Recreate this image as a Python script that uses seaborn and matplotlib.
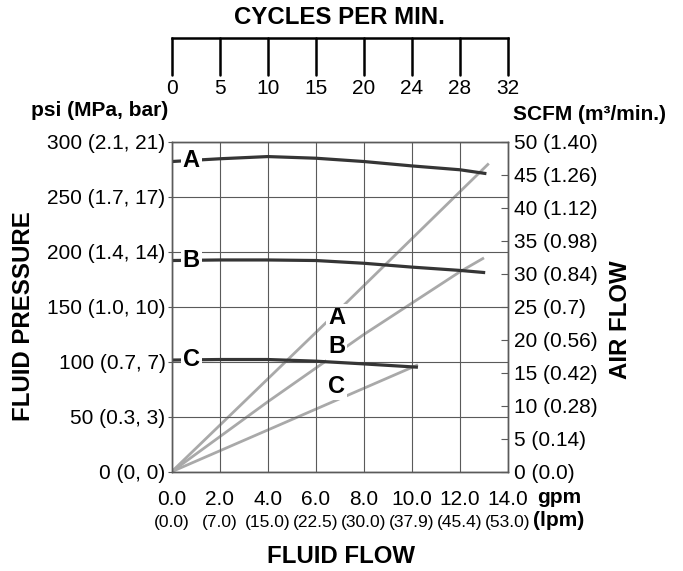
import numpy as np
import pandas as pd
import matplotlib
matplotlib.use("Agg")
import matplotlib.pyplot as plt
from matplotlib import font_manager as fm
import seaborn as sns

# ---- axis scales and tick labels ----
gpm_ticks = [0, 2, 4, 6, 8, 10, 12, 14]
gpm_labels = ["0.0", "2.0", "4.0", "6.0", "8.0", "10.0", "12.0", "14.0"]
lpm_labels = ["(0.0)", "(7.0)", "(15.0)", "(22.5)", "(30.0)", "(37.9)", "(45.4)", "(53.0)"]
cycles_labels = ["0", "5", "10", "15", "20", "24", "28", "32"]
psi_ticks = [0, 50, 100, 150, 200, 250, 300]
psi_labels = ["0 (0, 0)", "50 (0.3, 3)", "100 (0.7, 7)", "150 (1.0, 10)",
              "200 (1.4, 14)", "250 (1.7, 17)", "300 (2.1, 21)"]
scfm_ticks = [0, 5, 10, 15, 20, 25, 30, 35, 40, 45, 50]
scfm_labels = ["0 (0.0)", "5 (0.14)", "10 (0.28)", "15 (0.42)", "20 (0.56)",
               "25 (0.7)", "30 (0.84)", "35 (0.98)", "40 (1.12)", "45 (1.26)",
               "50 (1.40)"]

# ---- fluid pressure curves (psi vs gpm) ----
press_a_gpm = [0, 2, 4, 6, 8, 10, 12, 13.1]
press_a_psi = [282, 284.5, 286.5, 285, 282, 278, 274.5, 271]
press_b_gpm = [0, 2, 4, 6, 8, 10, 12, 13.05]
press_b_psi = [192, 192.5, 192.5, 192, 189.5, 186, 183, 181]
press_c_gpm = [0, 2, 4, 6, 8, 10.25]
press_c_psi = [101.5, 102, 102, 100.5, 98, 95]

# ---- air consumption curves (SCFM vs gpm) ----
air_a_gpm = [0, 6.4, 13.2]
air_a_scfm = [0, 22.5, 46.7]
air_b_gpm = [0, 4, 8, 12, 13.0]
air_b_scfm = [0, 10.6, 20.8, 30.3, 32.4]
air_c_gpm = [0, 10.25]
air_c_scfm = [0, 16.2]

curve_names = ["A", "B", "C"]


def has_font(name):
    try:
        fm.findfont(fm.FontProperties(family=name), fallback_to_default=False)
        return True
    except ValueError:
        return False


sns.set_style("white")
base_font = "Liberation Sans" if has_font("Liberation Sans") else "DejaVu Sans"
plt.rcParams["font.family"] = [base_font, "DejaVu Sans"]
plt.rcParams["text.color"] = "black"
plt.rcParams["xtick.color"] = "black"
plt.rcParams["ytick.color"] = "black"
narrow_font = "Liberation Sans Narrow" if has_font("Liberation Sans Narrow") else base_font
narrow_size = 15 if narrow_font != base_font else 12.5

press_df = pd.concat([
    pd.DataFrame({"gpm": press_a_gpm, "psi": press_a_psi, "pump": "A"}),
    pd.DataFrame({"gpm": press_b_gpm, "psi": press_b_psi, "pump": "B"}),
    pd.DataFrame({"gpm": press_c_gpm, "psi": press_c_psi, "pump": "C"}),
], ignore_index=True)
air_df = pd.concat([
    pd.DataFrame({"gpm": air_a_gpm, "scfm": air_a_scfm, "pump": "A"}),
    pd.DataFrame({"gpm": air_b_gpm, "scfm": air_b_scfm, "pump": "B"}),
    pd.DataFrame({"gpm": air_c_gpm, "scfm": air_c_scfm, "pump": "C"}),
], ignore_index=True)

DARK = "#353535"
LIGHT = "#a9a9a9"
GRID = "#5a5a5a"
TICK_FS = 15
TITLE_FS = 17.3

fig = plt.figure(figsize=(6.83, 5.71), dpi=100)
ax = fig.add_axes([0.2514, 0.1739, 0.4924, 0.5779])
ax2 = ax.twinx()

# air flow on the right-hand scale
sns.lineplot(data=air_df, x="gpm", y="scfm", hue="pump",
             palette={n: LIGHT for n in curve_names}, linewidth=2.0,
             legend=False, ax=ax2, solid_capstyle="butt")
# fluid pressure on the left-hand scale
sns.lineplot(data=press_df, x="gpm", y="psi", hue="pump",
             palette={n: DARK for n in curve_names}, linewidth=2.3,
             legend=False, ax=ax, solid_capstyle="butt")
ax.set_zorder(ax2.get_zorder() + 1)
ax.patch.set_visible(False)

ax.set_xlim(0, 14)
ax.set_ylim(0, 300)
ax2.set_ylim(0, 50)

ax.set_xticks(gpm_ticks)
ax.set_xticklabels(gpm_labels, fontsize=TICK_FS)
ax.set_yticks(psi_ticks)
ax.set_yticklabels(psi_labels, fontsize=TICK_FS)
ax.tick_params(axis="x", length=0, pad=13, labelcolor="black")
ax.tick_params(axis="y", length=3, width=0.8, color=GRID, pad=1.5, labelcolor="black")
ax.grid(True, color=GRID, linewidth=0.8)
ax.set_xlabel("")
ax.set_ylabel("")

ax2.set_yticks(scfm_ticks)
ax2.set_yticklabels(scfm_labels, fontsize=TICK_FS)
ax2.tick_params(axis="y", direction="in", length=5, width=0.8, color=GRID,
                pad=4.5, labelcolor="black")
ax2.set_ylabel("")
ax2.grid(False)

for a in (ax, ax2):
    for s in a.spines.values():
        s.set_color(GRID)
        s.set_linewidth(1.0)

# second row of flow labels in litres per minute
sec = ax.secondary_xaxis("bottom")
sec.set_xticks(gpm_ticks)
sec.set_xticklabels(lpm_labels, fontsize=narrow_size, family=narrow_font)
sec.tick_params(axis="x", length=0, pad=31, labelcolor="black")
sec.spines["bottom"].set_visible(False)

# curve identifiers
label_box = dict(facecolor="white", edgecolor="none", pad=1.5)
press_series = [(press_a_gpm, press_a_psi), (press_b_gpm, press_b_psi),
                (press_c_gpm, press_c_psi)]
for name, (gx, gy) in zip(curve_names, press_series):
    ax.text(0.82, np.interp(0.82, gx, gy), name, fontsize=17, fontweight="bold",
            ha="center", va="center", bbox=label_box, zorder=5)

air_label_x = 6.86
air_label_y = [23.4, 18.9, 12.9]
for name, ly in zip(curve_names, air_label_y):
    ax2.text(air_label_x, ly, name, fontsize=17, fontweight="bold",
             ha="center", va="center", bbox=label_box, zorder=5)

# pump speed scale above the chart
ax_top = fig.add_axes([0.2514, 0.8687, 0.4924, 0.0642])
ax_top.set_xlim(0, 14)
ax_top.set_ylim(0, 1)
for side in ("left", "right", "bottom"):
    ax_top.spines[side].set_visible(False)
ax_top.spines["top"].set_color("black")
ax_top.spines["top"].set_linewidth(1.8)
ax_top.set_yticks([])
ax_top.set_xticks(gpm_ticks)
ax_top.set_xticklabels(cycles_labels, fontsize=TICK_FS)
ax_top.tick_params(axis="x", length=0, pad=3, labelcolor="black")
ax_top.grid(True, axis="x", color="black", linewidth=1.8)
ax_top.grid(False, axis="y")
for gl in ax_top.get_xgridlines():
    gl.set_clip_on(False)
ax_top.patch.set_visible(False)
ax_top.set_title("CYCLES PER MIN.", fontsize=TITLE_FS, fontweight="bold", pad=10)

# axis titles and units
fig.text(0.246, 0.807, "psi (MPa, bar)", fontsize=15, fontweight="bold",
         ha="right", va="center")
fig.text(0.751, 0.799, "SCFM (m³/min.)", fontsize=15, fontweight="bold",
         ha="left", va="center")
fig.text(0.035, 0.447, "FLUID PRESSURE", fontsize=TITLE_FS, fontweight="bold",
         rotation=90, ha="center", va="center")
fig.text(0.909, 0.440, "AIR FLOW", fontsize=TITLE_FS, fontweight="bold",
         rotation=90, ha="center", va="center")
fig.text(0.4993, 0.025, "FLUID FLOW", fontsize=TITLE_FS, fontweight="bold",
         ha="center", va="center")
fig.text(0.786, 0.128, "gpm", fontsize=15, fontweight="bold",
         ha="left", va="center")
fig.text(0.781, 0.088, "(lpm)", fontsize=15, fontweight="bold",
         ha="left", va="center")

fig.savefig("out.png", dpi=100)
